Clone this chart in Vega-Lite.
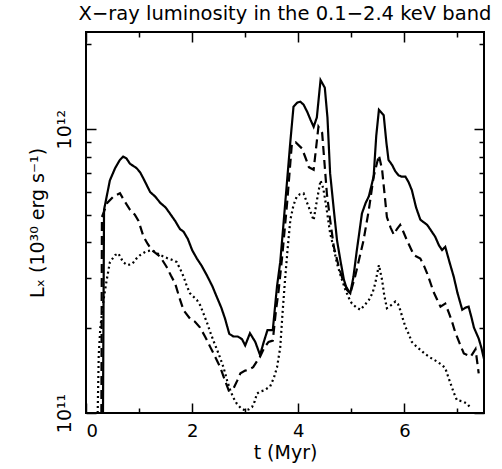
{
  "$schema": "https://vega.github.io/schema/vega-lite/v6.json",
  "width": 398,
  "height": 381,
  "autosize": "none",
  "padding": {"left": 86, "top": 32, "right": 18, "bottom": 56},
  "background": "white",
  "config": {
    "view": {"stroke": "black", "strokeWidth": 2},
    "font": "DejaVu Sans"
  },
  "title": {
    "text": "X−ray luminosity in the 0.1−2.4 keV band",
    "fontSize": 19.5,
    "fontWeight": "normal",
    "font": "DejaVu Sans",
    "color": "black",
    "anchor": "middle",
    "offset": 7
  },
  "data": {
    "values": [
      {"s": "a", "t": 0.32, "L": 1.0e11}, {"s": "a", "t": 0.34, "L": 5.2e11}, {"s": "a", "t": 0.45, "L": 6.6e11},
      {"s": "a", "t": 0.55, "L": 7.3e11}, {"s": "a", "t": 0.64, "L": 7.8e11}, {"s": "a", "t": 0.70, "L": 8.0e11},
      {"s": "a", "t": 0.76, "L": 7.9e11}, {"s": "a", "t": 0.83, "L": 7.55e11}, {"s": "a", "t": 0.95, "L": 7.3e11},
      {"s": "a", "t": 1.02, "L": 7.05e11}, {"s": "a", "t": 1.10, "L": 6.6e11}, {"s": "a", "t": 1.21, "L": 6.0e11},
      {"s": "a", "t": 1.30, "L": 5.8e11}, {"s": "a", "t": 1.40, "L": 5.5e11}, {"s": "a", "t": 1.50, "L": 5.3e11},
      {"s": "a", "t": 1.58, "L": 5.05e11}, {"s": "a", "t": 1.68, "L": 4.75e11}, {"s": "a", "t": 1.77, "L": 4.45e11},
      {"s": "a", "t": 1.84, "L": 4.35e11}, {"s": "a", "t": 1.92, "L": 4.1e11}, {"s": "a", "t": 2.00, "L": 3.75e11},
      {"s": "a", "t": 2.09, "L": 3.5e11}, {"s": "a", "t": 2.18, "L": 3.3e11}, {"s": "a", "t": 2.28, "L": 3.05e11},
      {"s": "a", "t": 2.38, "L": 2.8e11}, {"s": "a", "t": 2.47, "L": 2.55e11}, {"s": "a", "t": 2.55, "L": 2.35e11},
      {"s": "a", "t": 2.62, "L": 2.15e11}, {"s": "a", "t": 2.70, "L": 1.9e11}, {"s": "a", "t": 2.78, "L": 1.86e11},
      {"s": "a", "t": 2.86, "L": 1.86e11}, {"s": "a", "t": 2.94, "L": 1.82e11}, {"s": "a", "t": 3.00, "L": 1.73e11},
      {"s": "a", "t": 3.09, "L": 1.91e11}, {"s": "a", "t": 3.19, "L": 1.78e11}, {"s": "a", "t": 3.28, "L": 1.60e11},
      {"s": "a", "t": 3.35, "L": 1.78e11}, {"s": "a", "t": 3.42, "L": 1.96e11}, {"s": "a", "t": 3.52, "L": 1.96e11},
      {"s": "a", "t": 3.60, "L": 2.8e11}, {"s": "a", "t": 3.66, "L": 3.4e11}, {"s": "a", "t": 3.72, "L": 4.6e11},
      {"s": "a", "t": 3.79, "L": 6.6e11}, {"s": "a", "t": 3.85, "L": 9.0e11}, {"s": "a", "t": 3.91, "L": 1.2e12},
      {"s": "a", "t": 3.98, "L": 1.24e12}, {"s": "a", "t": 4.04, "L": 1.25e12}, {"s": "a", "t": 4.10, "L": 1.22e12},
      {"s": "a", "t": 4.17, "L": 1.15e12}, {"s": "a", "t": 4.23, "L": 1.08e12}, {"s": "a", "t": 4.29, "L": 1.02e12},
      {"s": "a", "t": 4.35, "L": 1.1e12}, {"s": "a", "t": 4.42, "L": 1.49e12}, {"s": "a", "t": 4.50, "L": 1.40e12},
      {"s": "a", "t": 4.55, "L": 1.1e12}, {"s": "a", "t": 4.60, "L": 7.0e11}, {"s": "a", "t": 4.67, "L": 5.2e11},
      {"s": "a", "t": 4.73, "L": 4.06e11}, {"s": "a", "t": 4.80, "L": 3.4e11}, {"s": "a", "t": 4.86, "L": 2.95e11},
      {"s": "a", "t": 4.92, "L": 2.71e11}, {"s": "a", "t": 4.98, "L": 2.64e11}, {"s": "a", "t": 5.04, "L": 3.02e11},
      {"s": "a", "t": 5.10, "L": 3.7e11}, {"s": "a", "t": 5.20, "L": 5.05e11}, {"s": "a", "t": 5.27, "L": 5.5e11},
      {"s": "a", "t": 5.33, "L": 5.8e11}, {"s": "a", "t": 5.42, "L": 6.8e11}, {"s": "a", "t": 5.47, "L": 9.5e11},
      {"s": "a", "t": 5.52, "L": 1.17e12}, {"s": "a", "t": 5.61, "L": 1.12e12}, {"s": "a", "t": 5.66, "L": 9.0e11},
      {"s": "a", "t": 5.70, "L": 7.8e11}, {"s": "a", "t": 5.77, "L": 7.47e11}, {"s": "a", "t": 5.83, "L": 7.1e11},
      {"s": "a", "t": 5.89, "L": 6.88e11}, {"s": "a", "t": 5.95, "L": 6.8e11}, {"s": "a", "t": 6.02, "L": 6.8e11},
      {"s": "a", "t": 6.08, "L": 6.5e11}, {"s": "a", "t": 6.14, "L": 6.1e11}, {"s": "a", "t": 6.22, "L": 5.3e11},
      {"s": "a", "t": 6.30, "L": 4.8e11}, {"s": "a", "t": 6.43, "L": 4.6e11}, {"s": "a", "t": 6.50, "L": 4.4e11},
      {"s": "a", "t": 6.58, "L": 4.18e11}, {"s": "a", "t": 6.65, "L": 3.9e11}, {"s": "a", "t": 6.71, "L": 3.75e11},
      {"s": "a", "t": 6.77, "L": 3.85e11}, {"s": "a", "t": 6.85, "L": 3.4e11}, {"s": "a", "t": 6.93, "L": 3.02e11},
      {"s": "a", "t": 7.00, "L": 2.65e11}, {"s": "a", "t": 7.09, "L": 2.31e11}, {"s": "a", "t": 7.15, "L": 2.35e11},
      {"s": "a", "t": 7.21, "L": 2.37e11}, {"s": "a", "t": 7.27, "L": 2.15e11}, {"s": "a", "t": 7.31, "L": 2.0e11},
      {"s": "a", "t": 7.40, "L": 1.83e11}, {"s": "a", "t": 7.45, "L": 1.7e11}, {"s": "a", "t": 7.50, "L": 1.55e11},

      {"s": "b", "t": 0.29, "L": 1.0e11}, {"s": "b", "t": 0.30, "L": 4.9e11}, {"s": "b", "t": 0.40, "L": 5.5e11},
      {"s": "b", "t": 0.52, "L": 5.8e11}, {"s": "b", "t": 0.64, "L": 5.95e11}, {"s": "b", "t": 0.72, "L": 5.6e11},
      {"s": "b", "t": 0.83, "L": 5.2e11}, {"s": "b", "t": 0.92, "L": 5.0e11}, {"s": "b", "t": 0.99, "L": 4.75e11},
      {"s": "b", "t": 1.08, "L": 4.2e11}, {"s": "b", "t": 1.16, "L": 3.95e11}, {"s": "b", "t": 1.24, "L": 3.75e11},
      {"s": "b", "t": 1.32, "L": 3.65e11}, {"s": "b", "t": 1.40, "L": 3.55e11}, {"s": "b", "t": 1.52, "L": 3.27e11},
      {"s": "b", "t": 1.60, "L": 3.05e11}, {"s": "b", "t": 1.68, "L": 2.86e11}, {"s": "b", "t": 1.76, "L": 2.55e11},
      {"s": "b", "t": 1.84, "L": 2.3e11}, {"s": "b", "t": 1.96, "L": 2.15e11}, {"s": "b", "t": 2.05, "L": 2.1e11},
      {"s": "b", "t": 2.15, "L": 2.0e11}, {"s": "b", "t": 2.25, "L": 1.85e11}, {"s": "b", "t": 2.34, "L": 1.71e11},
      {"s": "b", "t": 2.44, "L": 1.57e11}, {"s": "b", "t": 2.53, "L": 1.45e11}, {"s": "b", "t": 2.62, "L": 1.3e11},
      {"s": "b", "t": 2.69, "L": 1.2e11}, {"s": "b", "t": 2.78, "L": 1.22e11}, {"s": "b", "t": 2.85, "L": 1.3e11},
      {"s": "b", "t": 2.91, "L": 1.38e11}, {"s": "b", "t": 3.00, "L": 1.41e11}, {"s": "b", "t": 3.06, "L": 1.42e11},
      {"s": "b", "t": 3.15, "L": 1.45e11}, {"s": "b", "t": 3.22, "L": 1.52e11}, {"s": "b", "t": 3.28, "L": 1.58e11},
      {"s": "b", "t": 3.36, "L": 1.7e11}, {"s": "b", "t": 3.44, "L": 1.78e11}, {"s": "b", "t": 3.52, "L": 1.8e11},
      {"s": "b", "t": 3.58, "L": 2.3e11}, {"s": "b", "t": 3.63, "L": 2.7e11}, {"s": "b", "t": 3.70, "L": 3.6e11},
      {"s": "b", "t": 3.79, "L": 5.5e11}, {"s": "b", "t": 3.88, "L": 8.9e11}, {"s": "b", "t": 3.95, "L": 9.0e11},
      {"s": "b", "t": 4.07, "L": 8.55e11}, {"s": "b", "t": 4.14, "L": 7.9e11}, {"s": "b", "t": 4.20, "L": 7.35e11},
      {"s": "b", "t": 4.29, "L": 7.2e11}, {"s": "b", "t": 4.38, "L": 1.02e12}, {"s": "b", "t": 4.45, "L": 9.7e11},
      {"s": "b", "t": 4.54, "L": 5.9e11}, {"s": "b", "t": 4.60, "L": 4.8e11}, {"s": "b", "t": 4.67, "L": 3.85e11},
      {"s": "b", "t": 4.76, "L": 3.3e11}, {"s": "b", "t": 4.86, "L": 2.86e11}, {"s": "b", "t": 4.98, "L": 2.64e11},
      {"s": "b", "t": 5.07, "L": 3.02e11}, {"s": "b", "t": 5.15, "L": 3.5e11}, {"s": "b", "t": 5.23, "L": 4.06e11},
      {"s": "b", "t": 5.33, "L": 5.2e11}, {"s": "b", "t": 5.42, "L": 6.8e11}, {"s": "b", "t": 5.52, "L": 8.1e11},
      {"s": "b", "t": 5.58, "L": 7.2e11}, {"s": "b", "t": 5.67, "L": 4.9e11}, {"s": "b", "t": 5.74, "L": 4.5e11},
      {"s": "b", "t": 5.80, "L": 4.25e11}, {"s": "b", "t": 5.86, "L": 4.45e11}, {"s": "b", "t": 5.92, "L": 4.6e11},
      {"s": "b", "t": 5.98, "L": 4.35e11}, {"s": "b", "t": 6.05, "L": 4.05e11}, {"s": "b", "t": 6.12, "L": 3.8e11},
      {"s": "b", "t": 6.18, "L": 3.6e11}, {"s": "b", "t": 6.30, "L": 3.5e11}, {"s": "b", "t": 6.37, "L": 3.3e11},
      {"s": "b", "t": 6.43, "L": 3.1e11}, {"s": "b", "t": 6.55, "L": 2.67e11}, {"s": "b", "t": 6.62, "L": 2.5e11},
      {"s": "b", "t": 6.68, "L": 2.37e11}, {"s": "b", "t": 6.77, "L": 2.43e11}, {"s": "b", "t": 6.84, "L": 2.25e11},
      {"s": "b", "t": 6.90, "L": 2.09e11}, {"s": "b", "t": 6.96, "L": 1.92e11}, {"s": "b", "t": 7.03, "L": 1.78e11},
      {"s": "b", "t": 7.12, "L": 1.62e11}, {"s": "b", "t": 7.25, "L": 1.58e11}, {"s": "b", "t": 7.34, "L": 1.68e11},
      {"s": "b", "t": 7.40, "L": 1.38e11},

      {"s": "c", "t": 0.22, "L": 1.0e11}, {"s": "c", "t": 0.24, "L": 1.6e11}, {"s": "c", "t": 0.27, "L": 2.0e11},
      {"s": "c", "t": 0.33, "L": 2.5e11}, {"s": "c", "t": 0.39, "L": 2.94e11}, {"s": "c", "t": 0.45, "L": 3.4e11},
      {"s": "c", "t": 0.55, "L": 3.6e11}, {"s": "c", "t": 0.61, "L": 3.65e11}, {"s": "c", "t": 0.70, "L": 3.4e11},
      {"s": "c", "t": 0.78, "L": 3.32e11}, {"s": "c", "t": 0.87, "L": 3.35e11}, {"s": "c", "t": 0.95, "L": 3.5e11},
      {"s": "c", "t": 1.02, "L": 3.6e11}, {"s": "c", "t": 1.12, "L": 3.7e11}, {"s": "c", "t": 1.24, "L": 3.75e11},
      {"s": "c", "t": 1.32, "L": 3.68e11}, {"s": "c", "t": 1.40, "L": 3.6e11}, {"s": "c", "t": 1.55, "L": 3.5e11},
      {"s": "c", "t": 1.65, "L": 3.45e11}, {"s": "c", "t": 1.71, "L": 3.4e11}, {"s": "c", "t": 1.78, "L": 3.2e11},
      {"s": "c", "t": 1.84, "L": 3.02e11}, {"s": "c", "t": 1.90, "L": 2.8e11}, {"s": "c", "t": 1.96, "L": 2.64e11},
      {"s": "c", "t": 2.09, "L": 2.5e11}, {"s": "c", "t": 2.15, "L": 2.4e11}, {"s": "c", "t": 2.21, "L": 2.25e11},
      {"s": "c", "t": 2.28, "L": 2.08e11}, {"s": "c", "t": 2.34, "L": 1.93e11}, {"s": "c", "t": 2.40, "L": 1.8e11},
      {"s": "c", "t": 2.47, "L": 1.67e11}, {"s": "c", "t": 2.53, "L": 1.56e11}, {"s": "c", "t": 2.59, "L": 1.45e11},
      {"s": "c", "t": 2.66, "L": 1.3e11}, {"s": "c", "t": 2.72, "L": 1.2e11}, {"s": "c", "t": 2.78, "L": 1.13e11},
      {"s": "c", "t": 2.84, "L": 1.08e11}, {"s": "c", "t": 2.92, "L": 1.04e11}, {"s": "c", "t": 3.00, "L": 1.02e11},
      {"s": "c", "t": 3.07, "L": 1.03e11}, {"s": "c", "t": 3.13, "L": 1.05e11}, {"s": "c", "t": 3.18, "L": 1.1e11},
      {"s": "c", "t": 3.22, "L": 1.17e11}, {"s": "c", "t": 3.28, "L": 1.19e11}, {"s": "c", "t": 3.35, "L": 1.2e11},
      {"s": "c", "t": 3.41, "L": 1.22e11}, {"s": "c", "t": 3.47, "L": 1.24e11}, {"s": "c", "t": 3.54, "L": 1.33e11},
      {"s": "c", "t": 3.60, "L": 1.45e11}, {"s": "c", "t": 3.66, "L": 1.7e11}, {"s": "c", "t": 3.70, "L": 2.2e11},
      {"s": "c", "t": 3.75, "L": 2.94e11}, {"s": "c", "t": 3.80, "L": 3.8e11}, {"s": "c", "t": 3.85, "L": 4.78e11},
      {"s": "c", "t": 3.91, "L": 5.4e11}, {"s": "c", "t": 3.97, "L": 5.78e11}, {"s": "c", "t": 4.03, "L": 5.9e11},
      {"s": "c", "t": 4.10, "L": 5.94e11}, {"s": "c", "t": 4.15, "L": 5.6e11}, {"s": "c", "t": 4.20, "L": 5.3e11},
      {"s": "c", "t": 4.25, "L": 5.0e11}, {"s": "c", "t": 4.29, "L": 4.78e11}, {"s": "c", "t": 4.35, "L": 5.6e11},
      {"s": "c", "t": 4.42, "L": 6.6e11}, {"s": "c", "t": 4.47, "L": 6.2e11}, {"s": "c", "t": 4.51, "L": 5.6e11},
      {"s": "c", "t": 4.55, "L": 5.0e11}, {"s": "c", "t": 4.60, "L": 4.3e11}, {"s": "c", "t": 4.67, "L": 3.8e11},
      {"s": "c", "t": 4.73, "L": 3.36e11}, {"s": "c", "t": 4.81, "L": 3.0e11}, {"s": "c", "t": 4.89, "L": 2.71e11},
      {"s": "c", "t": 4.95, "L": 2.55e11}, {"s": "c", "t": 5.01, "L": 2.43e11}, {"s": "c", "t": 5.09, "L": 2.36e11},
      {"s": "c", "t": 5.17, "L": 2.31e11}, {"s": "c", "t": 5.25, "L": 2.4e11}, {"s": "c", "t": 5.33, "L": 2.5e11},
      {"s": "c", "t": 5.40, "L": 2.65e11}, {"s": "c", "t": 5.45, "L": 2.86e11}, {"s": "c", "t": 5.52, "L": 3.32e11},
      {"s": "c", "t": 5.58, "L": 2.94e11}, {"s": "c", "t": 5.62, "L": 2.6e11}, {"s": "c", "t": 5.67, "L": 2.34e11},
      {"s": "c", "t": 5.75, "L": 2.4e11}, {"s": "c", "t": 5.83, "L": 2.47e11}, {"s": "c", "t": 5.88, "L": 2.42e11},
      {"s": "c", "t": 5.92, "L": 2.31e11}, {"s": "c", "t": 5.97, "L": 2.15e11}, {"s": "c", "t": 6.02, "L": 2.01e11},
      {"s": "c", "t": 6.08, "L": 1.9e11}, {"s": "c", "t": 6.14, "L": 1.78e11}, {"s": "c", "t": 6.22, "L": 1.72e11},
      {"s": "c", "t": 6.30, "L": 1.67e11}, {"s": "c", "t": 6.38, "L": 1.62e11}, {"s": "c", "t": 6.46, "L": 1.58e11},
      {"s": "c", "t": 6.53, "L": 1.55e11}, {"s": "c", "t": 6.61, "L": 1.52e11}, {"s": "c", "t": 6.70, "L": 1.48e11},
      {"s": "c", "t": 6.77, "L": 1.44e11}, {"s": "c", "t": 6.82, "L": 1.35e11}, {"s": "c", "t": 6.87, "L": 1.27e11},
      {"s": "c", "t": 6.93, "L": 1.18e11}, {"s": "c", "t": 6.99, "L": 1.11e11}, {"s": "c", "t": 7.09, "L": 1.1e11},
      {"s": "c", "t": 7.18, "L": 1.08e11}, {"s": "c", "t": 7.25, "L": 1.04e11}
    ]
  },
  "resolve": {"axis": {"x": "independent", "y": "independent"}},
  "layer": [
    {
      "mark": {"type": "line", "color": "black", "strokeWidth": 2.2, "clip": true, "interpolate": "linear"},
      "encoding": {
        "x": {
          "field": "t", "type": "quantitative",
          "scale": {"domain": [0, 7.5], "nice": false, "zero": false},
          "axis": {
            "orient": "bottom", "title": "t (Myr)", "domain": false, "grid": false,
            "values": [0, 1, 2, 3, 4, 5, 6, 7],
            "labelExpr": "datum.value % 2 == 0 ? datum.label : ''",
            "tickSize": {"condition": {"test": "datum.value % 2 == 0", "value": -10}, "value": -5},
            "tickColor": "black", "tickWidth": 1.5,
            "labelFontSize": 18, "labelColor": "black", "labelFont": "DejaVu Sans", "labelPadding": 19,
            "titleFontSize": 19, "titleFontWeight": "normal", "titleColor": "black", "titleFont": "DejaVu Sans", "titlePadding": 3
          }
        },
        "y": {
          "field": "L", "type": "quantitative",
          "scale": {"type": "log", "domain": [1e11, 2.2e12], "nice": false, "zero": false},
          "axis": {
            "orient": "left", "title": "Lₓ (10³⁰ erg s⁻¹)", "domain": false, "grid": false,
            "values": [1e11, 2e11, 3e11, 4e11, 5e11, 6e11, 7e11, 8e11, 9e11, 1e12, 2e12],
            "labelExpr": "datum.value == 1e11 ? '10¹¹' : (datum.value == 1e12 ? '10¹²' : '')",
            "tickSize": {"condition": {"test": "datum.value == 1e11 || datum.value == 1e12", "value": -10}, "value": -5},
            "tickColor": "black", "tickWidth": 1.5,
            "labelAngle": -90, "labelAlign": "center", "labelBaseline": "bottom",
            "labelFontSize": 19, "labelColor": "black", "labelFont": "DejaVu Sans", "labelPadding": 22,
            "titleFontSize": 19, "titleFontWeight": "normal", "titleColor": "black", "titleFont": "DejaVu Sans", "titlePadding": 8
          }
        },
        "strokeDash": {
          "field": "s", "type": "nominal",
          "scale": {"domain": ["a", "b", "c"], "range": [[1, 0], [9, 5], [2, 3]]},
          "legend": null
        }
      }
    },
    {
      "mark": {"type": "line", "strokeOpacity": 0, "clip": true},
      "encoding": {
        "x": {
          "field": "t", "type": "quantitative",
          "axis": {
            "orient": "top", "title": null, "domain": false, "grid": false, "labels": false,
            "values": [0, 1, 2, 3, 4, 5, 6, 7],
            "tickSize": {"condition": {"test": "datum.value % 2 == 0", "value": -10}, "value": -5},
            "tickColor": "black", "tickWidth": 1.5
          }
        },
        "y": {
          "field": "L", "type": "quantitative",
          "axis": {
            "orient": "right", "title": null, "domain": false, "grid": false, "labels": false,
            "values": [1e11, 2e11, 3e11, 4e11, 5e11, 6e11, 7e11, 8e11, 9e11, 1e12, 2e12],
            "tickSize": {"condition": {"test": "datum.value == 1e11 || datum.value == 1e12", "value": -10}, "value": -5},
            "tickColor": "black", "tickWidth": 1.5
          }
        },
        "detail": {"field": "s", "type": "nominal"}
      }
    }
  ]
}
